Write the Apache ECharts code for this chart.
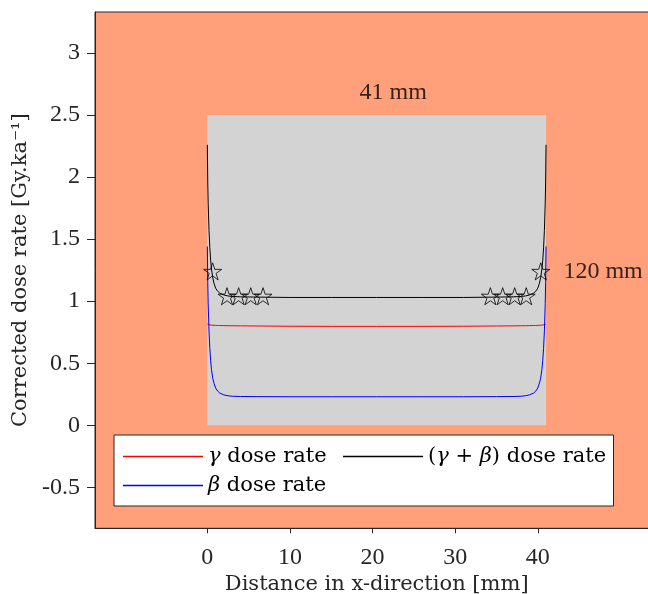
<!DOCTYPE html>
<html>
<head>
<meta charset="utf-8">
<script src="https://cdn.jsdelivr.net/npm/echarts@6/dist/echarts.min.js"></script>
<style>html,body{margin:0;padding:0;background:#fff}#c{width:648px;height:594px}</style>
</head>
<body>
<div id="c"></div>
<script>
// ---- data ----
const xPos = [0, 0.05, 0.1, 0.2, 0.3, 0.4, 0.5, 0.65, 0.8, 1.0, 1.25, 1.5, 2, 2.5, 3, 4, 6, 10, 15, 20.5,
  26, 31, 35, 37, 38, 38.5, 39, 39.5, 39.75, 40, 40.2, 40.35, 40.5, 40.6, 40.7, 40.8, 40.9, 40.95, 41];
const gammaRate = [0.815, 0.813, 0.812, 0.81, 0.809, 0.808, 0.807, 0.806, 0.806, 0.805, 0.804, 0.804, 0.803, 0.802, 0.802, 0.801, 0.8, 0.798, 0.797, 0.797,
  0.797, 0.798, 0.8, 0.801, 0.802, 0.802, 0.803, 0.804, 0.804, 0.805, 0.806, 0.806, 0.807, 0.808, 0.809, 0.81, 0.812, 0.813, 0.815];
const betaRate = [1.44, 1.15, 0.98, 0.76, 0.62, 0.52, 0.45, 0.38, 0.34, 0.30, 0.275, 0.26, 0.245, 0.238, 0.234, 0.232, 0.231, 0.23, 0.23, 0.23,
  0.23, 0.23, 0.231, 0.232, 0.234, 0.238, 0.245, 0.26, 0.275, 0.30, 0.34, 0.38, 0.45, 0.52, 0.62, 0.76, 0.98, 1.15, 1.44];
const totalRate = [2.26, 1.96, 1.79, 1.57, 1.43, 1.33, 1.26, 1.19, 1.145, 1.105, 1.08, 1.065, 1.05, 1.042, 1.038, 1.035, 1.033, 1.03, 1.03, 1.03,
  1.03, 1.03, 1.033, 1.035, 1.038, 1.042, 1.05, 1.065, 1.08, 1.105, 1.145, 1.19, 1.26, 1.33, 1.43, 1.57, 1.79, 1.96, 2.26];
const starX = [0.64, 2.38, 3.79, 5.25, 6.74, 34.26, 35.75, 37.2, 38.6, 40.36];
const starY = [1.24, 1.04, 1.04, 1.04, 1.04, 1.04, 1.04, 1.04, 1.04, 1.24];
const sampleX = [0, 41];      // grey sample area, x extent
const sampleY = [0, 2.5];     // grey sample area, y extent
const noteText = ['41 mm', '120 mm'];
const noteX = [22.5, 43.1];
const noteY = [2.68, 1.24];
const xTicks = [0, 10, 20, 30, 40];
const yTicks = [-0.5, 0, 0.5, 1, 1.5, 2, 2.5, 3];
const seriesNames = ['γ dose rate', 'β dose rate', '(γ + β) dose rate'];
const seriesColors = ['#ff0000', '#0000ff', '#000000'];

// ---- chart ----
const FONT = '"Liberation Serif", "DejaVu Serif", serif';
const WFONT = '"DejaVu Serif", "Liberation Serif", serif';
const FS = 24;
const WFS = 21;
const TXT = '#262626';
const chart = echarts.init(document.getElementById('c'), null, {renderer: 'canvas'});
const zip = (a, b) => a.map((v, i) => [v, b[i]]);
const starPath = 'path://M0,-1 L0.2245,-0.309 L0.951,-0.309 L0.363,0.118 L0.588,0.809 L0,0.382 L-0.588,0.809 L-0.363,0.118 L-0.951,-0.309 L-0.2245,-0.309 Z';

const legendRich = {
  g: {fontFamily: WFONT, fontSize: WFS, fontStyle: 'italic', color: '#000'},
  t: {fontFamily: WFONT, fontSize: WFS, color: '#000'}
};
function legendFmt(name) {
  if (name === seriesNames[0]) return '{g|γ}{t| dose rate}';
  if (name === seriesNames[1]) return '{g|β}{t| dose rate}';
  return '{t|(}{g|γ}{t| + }{g|β}{t|) dose rate}';
}
const legendItem = i => ({name: seriesNames[i], icon: 'rect',
  itemStyle: {color: seriesColors[i], borderWidth: 0}});
const legendBase = {orient: 'vertical', top: 444, itemWidth: 80, itemHeight: 1.3, itemGap: 4,
  formatter: legendFmt, textStyle: {rich: legendRich, lineHeight: 25}, selectedMode: false, padding: 0, z: 20};

const lineSeries = i => ({name: seriesNames[i], type: 'line', color: seriesColors[i], symbol: 'none', z: 3,
  lineStyle: {color: seriesColors[i], width: 1}, itemStyle: {color: seriesColors[i]},
  data: zip(xPos, [gammaRate, betaRate, totalRate][i])});

chart.setOption({
  animation: false,
  grid: {left: 95, top: 12, width: 563.4, height: 516.3, show: true, backgroundColor: '#FFA07A', borderColor: '#262626', borderWidth: 1,
    containLabel: false, outerBoundsMode: 'none'},
  xAxis: {
    type: 'value', min: -13.6, max: 54.6,
    name: 'Distance in x-direction [mm]', nameLocation: 'middle', nameGap: 27,
    nameTextStyle: {fontFamily: WFONT, fontSize: WFS, color: TXT},
    axisLine: {show: true, onZero: false, lineStyle: {color: '#262626'}},
    axisTick: {show: true, inside: false, length: 5, customValues: xTicks, lineStyle: {color: '#262626'}},
    axisLabel: {customValues: xTicks, fontFamily: FONT, fontSize: FS, color: TXT, margin: 17},
    splitLine: {show: false}
  },
  yAxis: {
    type: 'value', min: -0.83, max: 3.33,
    name: 'Corrected dose rate [Gy.ka⁻¹]', nameLocation: 'middle', nameGap: 55,
    nameTextStyle: {fontFamily: WFONT, fontSize: WFS, color: TXT},
    axisLine: {show: true, onZero: false, lineStyle: {color: '#262626'}},
    axisTick: {show: true, inside: false, length: 8, customValues: yTicks, lineStyle: {color: '#262626'}},
    axisLabel: {customValues: yTicks, fontFamily: FONT, fontSize: FS, color: TXT, margin: 15,
      formatter: v => String(v)},
    splitLine: {show: false}
  },
  legend: [
    Object.assign({}, legendBase, {data: [legendItem(0), legendItem(1)], left: 123}),
    Object.assign({}, legendBase, {data: [legendItem(2)], left: 343})
  ],
  graphic: [{type: 'rect', left: 113.5, top: 434.5, shape: {width: 499.5, height: 71}, style: {fill: '#fff', stroke: '#262626', lineWidth: 1}, z: 2}],
  series: [
    {name: 'sample', type: 'line', data: [], silent: true, z: 1,
      markArea: {silent: true, itemStyle: {color: '#D3D3D3'},
        data: [[{xAxis: sampleX[0], yAxis: sampleY[0]}, {xAxis: sampleX[1], yAxis: sampleY[1]}]]}},
    lineSeries(0), lineSeries(1), lineSeries(2),
    {name: 'stars', type: 'scatter', data: zip(starX, starY), symbol: starPath, symbolSize: 18, symbolKeepAspect: true,
      itemStyle: {color: 'rgba(0,0,0,0)', borderColor: '#000', borderWidth: 1}, z: 4, silent: true},
    {name: 'notes', type: 'scatter', symbolSize: 0, silent: true, z: 4,
      data: noteText.map((t, i) => ({value: [noteX[i], noteY[i]], name: t,
        label: {show: true, position: i === 0 ? 'inside' : 'right', distance: 0, formatter: t, fontFamily: FONT, fontSize: FS, color: '#000'}}))}
  ]
});
</script>
</body>
</html>
